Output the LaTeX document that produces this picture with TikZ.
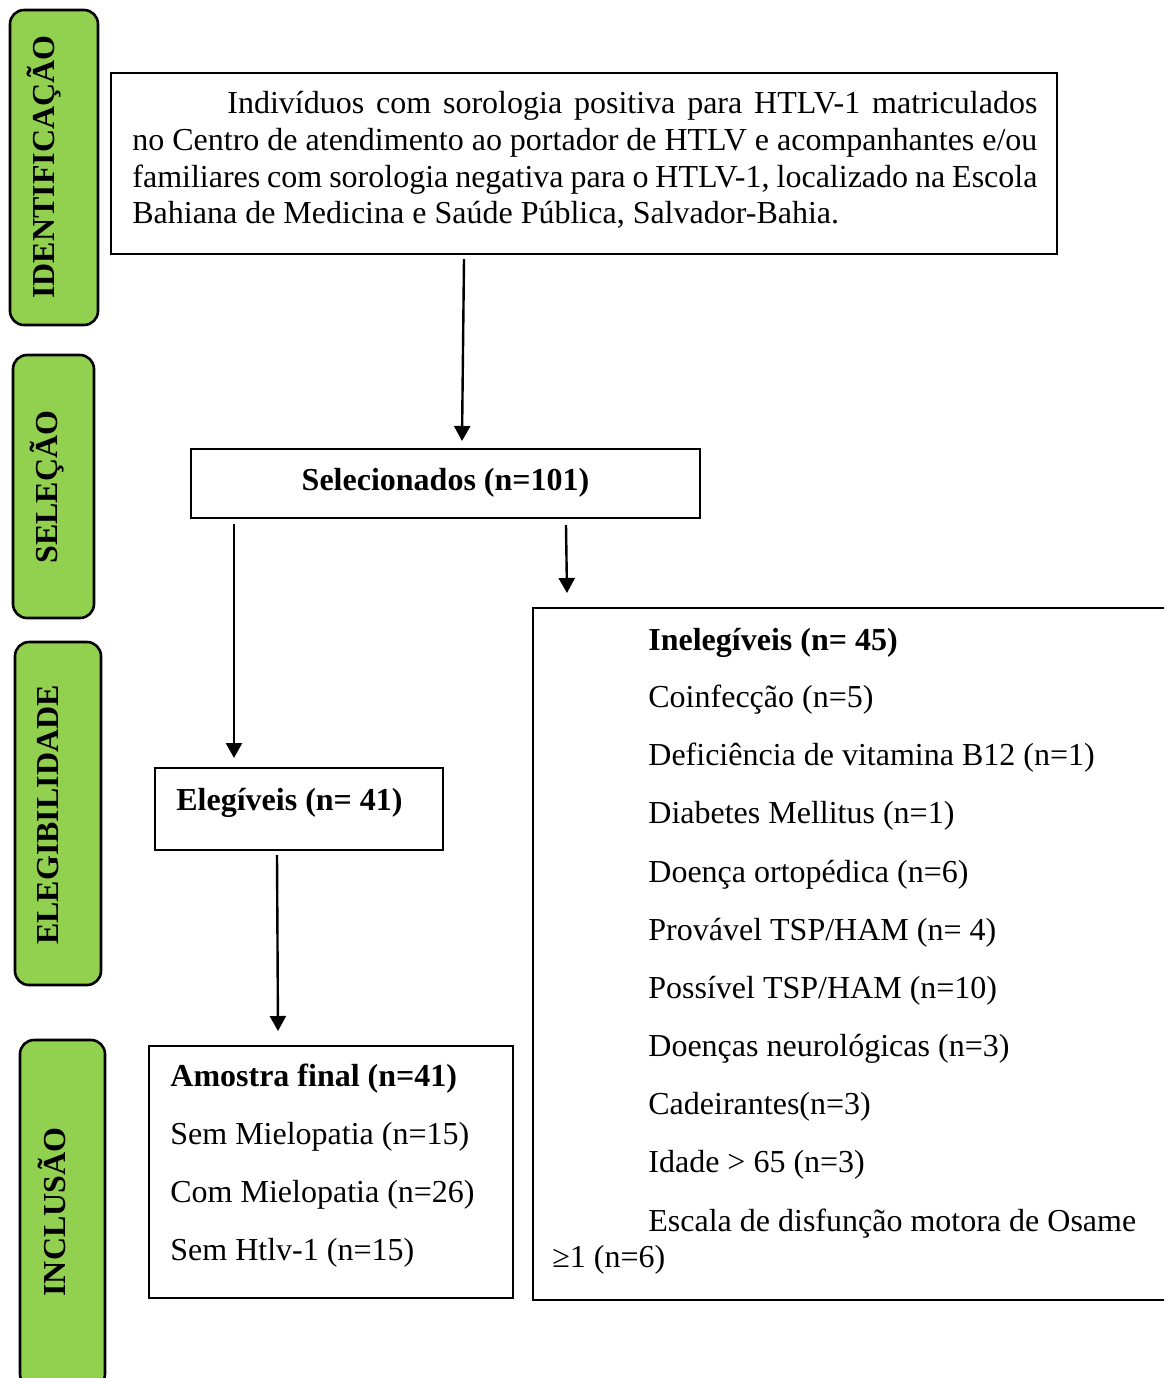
\documentclass[tikz,border=0pt]{standalone}
\usepackage{fontspec}
\setmainfont{Liberation Serif}
\usetikzlibrary{arrows.meta}
\definecolor{phasegreen}{HTML}{92D050}
\begin{document}
\begin{tikzpicture}[x=0.5pt,y=-0.5pt,
  every node/.style={font=\fontsize{16pt}{18.5pt}\selectfont},
  phase/.style={draw=black, line width=1.3pt, fill=phasegreen, rounded corners=7pt, inner sep=0pt},
  phasetxt/.style={rotate=90, font=\fontsize{16pt}{18.5pt}\selectfont\bfseries, inner sep=0pt},
  box/.style={draw=black, line width=1.4pt, inner sep=0pt, outer sep=0pt},
  txt/.style={anchor=base west, inner sep=0pt},
  btxt/.style={anchor=base west, inner sep=0pt, font=\fontsize{16pt}{18.5pt}\selectfont\bfseries},
  arr/.style={line width=1.2pt, -{Triangle[length=7.5pt,width=8pt]}}
]
\clip (0,0) rectangle (1164,1378);

% phase labels
\node[phase, minimum width=44pt, minimum height=157.5pt] (pid) at (54,167.5) {};
\node[phasetxt] (pidt) at (44,167) {IDENTIFICAÇÃO};
\node[phase, minimum width=40.5pt, minimum height=131.5pt] (psel) at (53.5,486.5) {};
\node[phasetxt] (pselt) at (47,487) {SELEÇÃO};
\node[phase, minimum width=43pt, minimum height=171.5pt] (pele) at (58,813.5) {};
\node[phasetxt] (pelet) at (48,815) {ELEGIBILIDADE};
\node[phase, minimum width=42.5pt, minimum height=174pt] (pinc) at (62.5,1214) {};
\node[phasetxt] (pinct) at (52,1212) {INCLUSÃO};

% top box
\node[box, minimum width=473pt, minimum height=90.5pt] (top) at (584,163.5) {};
\node[txt] (top1) at (227,113.5) {\makebox[405pt][s]{Indivíduos com sorologia positiva para HTLV-1 matriculados}};
\node[txt] (top2) at (132,150.5) {\makebox[452.5pt][s]{no Centro de atendimento ao portador de HTLV e acompanhantes e/ou}};
\node[txt] (top3) at (132,187.5) {\makebox[452.5pt][s]{familiares com sorologia negativa para o HTLV-1, localizado na Escola}};
\node[txt] (top4) at (132,223.5) {Bahiana de Medicina e Saúde Pública, Salvador-Bahia.};

% selecionados
\node[box, minimum width=254.5pt, minimum height=34.5pt] (sel) at (445.5,483.5) {};
\node[btxt, anchor=base] (selt) at (445.5,490.5) {Selecionados (n=101)};

% elegiveis
\node[box, minimum width=144pt, minimum height=41pt] (eleg) at (299,809) {};
\node[btxt] (elegt) at (176,810.5) {Elegíveis (n= 41)};

% amostra final
\node[box, minimum width=182pt, minimum height=126pt] (amo) at (331,1172) {};
\node[btxt] (amo1) at (170,1086.5) {Amostra final (n=41)};
\node[txt] (amo2) at (170,1144.5) {Sem Mielopatia (n=15)};
\node[txt] (amo3) at (170,1202.5) {Com Mielopatia (n=26)};
\node[txt] (amo4) at (170,1260.5) {Sem Htlv-1 (n=15)};

% inelegiveis (open on the right)
\node[inner sep=0pt, outer sep=0pt, minimum width=333.5pt, minimum height=346pt] (inel) at (866.5,954) {};
\draw[line width=1.4pt] (inel.north east) -- (inel.north west) -- (inel.south west) -- (inel.south east);
\node[btxt] (in1) at (648,650.5) {Inelegíveis (n= 45)};
\node[txt] (in2) at (648,707.5) {Coinfecção (n=5)};
\node[txt] (in3) at (648,765.5) {Deficiência de vitamina B12 (n=1)};
\node[txt] (in4) at (648,823.5) {Diabetes Mellitus (n=1)};
\node[txt] (in5) at (648,882.5) {Doença ortopédica (n=6)};
\node[txt] (in6) at (648,940.5) {Provável TSP/HAM (n= 4)};
\node[txt] (in7) at (648,998.5) {Possível TSP/HAM (n=10)};
\node[txt] (in8) at (648,1056.5) {Doenças neurológicas (n=3)};
\node[txt] (in9) at (648,1114.5) {Cadeirantes(n=3)};
\node[txt] (in10) at (648,1172.5) {Idade > 65 (n=3)};
\node[txt] (in11) at (648,1231.5) {Escala de disfunção motora de Osame};
\node[txt] (in12) at (552,1267.5) {≥1 (n=6)};

% arrows
\draw[arr] ([xshift=176.5pt,yshift=-2.5pt]top.south west) -- ([xshift=135.5pt,yshift=4pt]sel.north west);
\draw[arr] ([xshift=21.5pt,yshift=-3pt]sel.south west) -- ([xshift=39.5pt,yshift=5pt]eleg.north west);
\draw[arr] ([xshift=187.5pt,yshift=-3.5pt]sel.south west) -- ([xshift=17pt,yshift=7.5pt]inel.north west);
\draw[arr] ([xshift=61pt,yshift=-2.5pt]eleg.south west) -- ([xshift=64.5pt,yshift=7.5pt]amo.north west);
\end{tikzpicture}
\end{document}
